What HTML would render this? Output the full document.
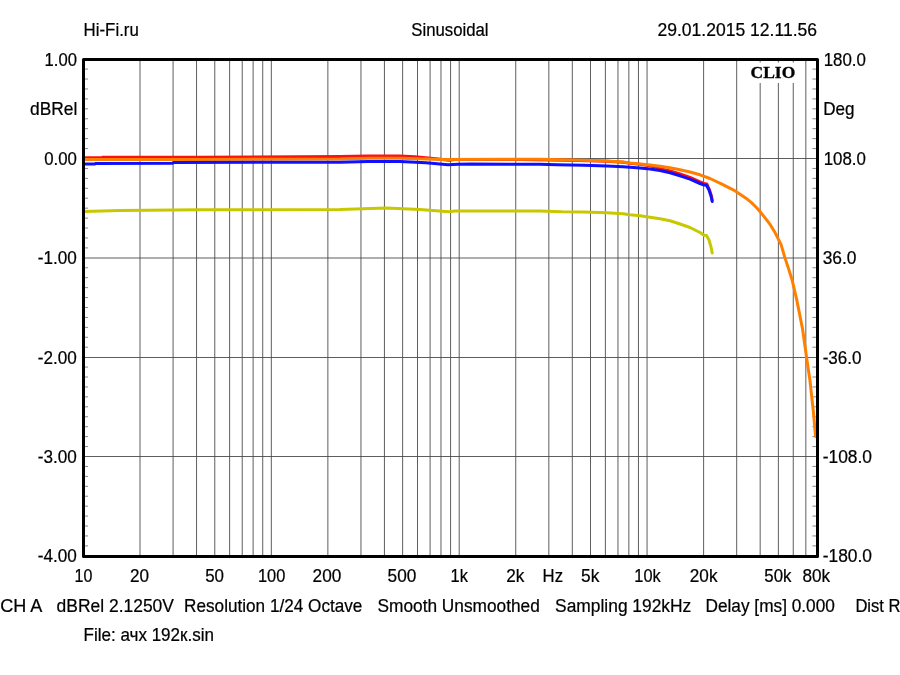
<!DOCTYPE html>
<html><head><meta charset="utf-8"><title>CLIO</title>
<style>
html,body{margin:0;padding:0;background:#fff;}
body{width:900px;height:675px;overflow:hidden;position:relative;}
svg{position:absolute;left:0;top:0;display:block;will-change:transform;}
text{font-family:"Liberation Sans",sans-serif;font-size:18.0px;fill:#000;stroke:#000;stroke-width:0.22px;}
.clio{font-family:"Liberation Serif",serif;font-weight:bold;font-size:17.5px;stroke:#000;stroke-width:0.35px;}
</style></head><body>
<svg width="900" height="675" viewBox="0 0 900 675">
<rect x="0" y="0" width="900" height="675" fill="#ffffff"/>
<path d="M140.00 59.5 V556.4 M173.09 59.5 V556.4 M196.56 59.5 V556.4 M214.77 59.5 V556.4 M229.64 59.5 V556.4 M242.22 59.5 V556.4 M253.11 59.5 V556.4 M262.72 59.5 V556.4 M271.32 59.5 V556.4 M327.87 59.5 V556.4 M360.96 59.5 V556.4 M384.43 59.5 V556.4 M402.64 59.5 V556.4 M417.51 59.5 V556.4 M430.09 59.5 V556.4 M440.98 59.5 V556.4 M450.59 59.5 V556.4 M459.19 59.5 V556.4 M515.74 59.5 V556.4 M548.83 59.5 V556.4 M572.30 59.5 V556.4 M590.51 59.5 V556.4 M605.38 59.5 V556.4 M617.96 59.5 V556.4 M628.85 59.5 V556.4 M638.46 59.5 V556.4 M647.06 59.5 V556.4 M703.61 59.5 V556.4 M736.70 59.5 V556.4 M760.17 59.5 V556.4 M778.38 59.5 V556.4 M793.25 59.5 V556.4 M805.83 59.5 V556.4 M83.5 158.50 H817.5 M83.5 258.00 H817.5 M83.5 357.50 H817.5 M83.5 456.50 H817.5" stroke="#484848" stroke-width="0.88" fill="none"/>
<path d="M85.0 69.10 h3.0 M816.0 69.10 h-3.6 M85.0 79.04 h3.0 M816.0 79.04 h-3.6 M85.0 88.97 h3.0 M816.0 88.97 h-3.6 M85.0 98.90 h3.0 M816.0 98.90 h-3.6 M85.0 108.84 h3.0 M816.0 108.84 h-3.6 M85.0 118.77 h3.0 M816.0 118.77 h-3.6 M85.0 128.70 h3.0 M816.0 128.70 h-3.6 M85.0 138.63 h3.0 M816.0 138.63 h-3.6 M85.0 148.57 h3.0 M816.0 148.57 h-3.6 M85.0 168.43 h3.0 M816.0 168.43 h-3.6 M85.0 178.37 h3.0 M816.0 178.37 h-3.6 M85.0 188.30 h3.0 M816.0 188.30 h-3.6 M85.0 198.23 h3.0 M816.0 198.23 h-3.6 M85.0 208.16 h3.0 M816.0 208.16 h-3.6 M85.0 218.10 h3.0 M816.0 218.10 h-3.6 M85.0 228.03 h3.0 M816.0 228.03 h-3.6 M85.0 237.96 h3.0 M816.0 237.96 h-3.6 M85.0 247.90 h3.0 M816.0 247.90 h-3.6 M85.0 267.76 h3.0 M816.0 267.76 h-3.6 M85.0 277.70 h3.0 M816.0 277.70 h-3.6 M85.0 287.63 h3.0 M816.0 287.63 h-3.6 M85.0 297.56 h3.0 M816.0 297.56 h-3.6 M85.0 307.50 h3.0 M816.0 307.50 h-3.6 M85.0 317.43 h3.0 M816.0 317.43 h-3.6 M85.0 327.36 h3.0 M816.0 327.36 h-3.6 M85.0 337.29 h3.0 M816.0 337.29 h-3.6 M85.0 347.23 h3.0 M816.0 347.23 h-3.6 M85.0 367.09 h3.0 M816.0 367.09 h-3.6 M85.0 377.03 h3.0 M816.0 377.03 h-3.6 M85.0 386.96 h3.0 M816.0 386.96 h-3.6 M85.0 396.89 h3.0 M816.0 396.89 h-3.6 M85.0 406.82 h3.0 M816.0 406.82 h-3.6 M85.0 416.76 h3.0 M816.0 416.76 h-3.6 M85.0 426.69 h3.0 M816.0 426.69 h-3.6 M85.0 436.62 h3.0 M816.0 436.62 h-3.6 M85.0 446.56 h3.0 M816.0 446.56 h-3.6 M85.0 466.42 h3.0 M816.0 466.42 h-3.6 M85.0 476.36 h3.0 M816.0 476.36 h-3.6 M85.0 486.29 h3.0 M816.0 486.29 h-3.6 M85.0 496.22 h3.0 M816.0 496.22 h-3.6 M85.0 506.15 h3.0 M816.0 506.15 h-3.6 M85.0 516.09 h3.0 M816.0 516.09 h-3.6 M85.0 526.02 h3.0 M816.0 526.02 h-3.6 M85.0 535.95 h3.0 M816.0 535.95 h-3.6 M85.0 545.89 h3.0 M816.0 545.89 h-3.6" stroke="#7a7a7a" stroke-width="0.88" fill="none"/>
<rect x="742" y="62.5" width="58" height="20.5" fill="#fff"/>
<text class="clio" x="772.9" y="78.4" text-anchor="middle" textLength="44.7" lengthAdjust="spacingAndGlyphs">CLIO</text>
<path d="M83.5 157.8 L102.0 157.6 L103.0 157.2 L200.0 157.2 L300.0 156.8 L340.0 156.4 L368.0 156.1 L400.0 156.1 L415.0 156.8 L436.0 158.8 L449.0 160.2 L455.0 159.6 L520.0 159.6 L580.0 160.4 L607.0 161.2 L623.0 162.2 L630.0 163.2 L640.0 164.3 L650.0 165.7 L655.0 167.0 L660.0 168.6 L670.0 171.0 L680.0 173.9 L690.0 177.3 L700.0 181.8 L704.0 183.4 L706.8 183.9 L709.5 190.0 L711.4 196.0 L712.2 200.2" stroke="#ff1010" stroke-width="3" fill="none" stroke-linejoin="round" stroke-linecap="round"/>
<path d="M83.5 159.5 L200.0 159.4 L340.0 159.1 L368.0 158.3 L400.0 158.3 L426.0 159.0 L440.0 159.5 L520.0 159.3 L540.0 159.2 L562.0 159.8 L584.0 160.3 L607.0 161.1 L623.0 162.0 L630.0 163.0 L640.0 164.0 L650.0 165.0 L660.0 166.2 L670.0 167.8 L680.0 169.7 L690.0 172.0 L700.0 174.8 L710.0 178.5 L721.9 184.2 L733.7 190.1 L745.6 197.9 L751.5 202.6 L757.4 208.5 L763.3 215.6 L769.3 223.3 L775.2 232.8 L781.1 244.7 L784.8 257.4 L788.5 268.5 L792.2 280.4 L796.7 299.6 L802.6 329.3 L806.4 356.3 L809.9 380.1 L813.3 410.8 L815.6 436.4" stroke="#ff7f00" stroke-width="3" fill="none" stroke-linejoin="round" stroke-linecap="round"/>
<path d="M83.5 163.9 L95.0 163.9 L96.0 163.4 L172.0 163.3 L174.0 162.5 L340.0 162.2 L368.0 161.5 L400.0 161.5 L426.0 162.8 L448.0 164.8 L458.0 164.2 L470.0 163.9 L520.0 164.2 L540.0 164.2 L557.0 164.8 L584.0 165.3 L607.0 165.9 L623.0 166.7 L630.0 167.2 L640.0 168.0 L650.0 169.0 L660.0 170.5 L670.0 172.8 L680.0 175.8 L690.0 179.2 L700.0 183.5 L704.0 185.0 L706.5 185.2 L709.0 190.0 L711.0 196.0 L712.2 201.5" stroke="#1010ff" stroke-width="3" fill="none" stroke-linejoin="round" stroke-linecap="round"/>
<path d="M83.5 211.4 L120.0 210.6 L200.0 209.8 L340.0 209.4 L386.0 208.0 L420.0 209.6 L449.0 211.8 L455.0 211.0 L520.0 210.9 L540.0 210.9 L562.0 211.7 L584.0 212.0 L607.0 212.8 L623.0 213.7 L630.0 214.8 L640.0 215.8 L650.0 217.2 L660.0 218.8 L670.0 220.8 L680.0 224.0 L690.0 227.5 L700.0 232.5 L704.0 235.2 L706.5 235.6 L709.0 240.0 L711.0 247.0 L712.2 253.0" stroke="#c8c800" stroke-width="3" fill="none" stroke-linejoin="round" stroke-linecap="round"/>
<rect x="83.5" y="59.5" width="734.0" height="496.90" fill="none" stroke="#000" stroke-width="3" stroke-linejoin="round"/>
<text transform="translate(83.60 35.60) scale(0.9367 1)">Hi-Fi.ru</text>
<text transform="translate(411.30 35.60) scale(0.9317 1)">Sinusoidal</text>
<text transform="translate(657.40 35.60) scale(0.9750 1)">29.01.2015 12.11.56</text>
<text transform="translate(44.60 65.52) scale(0.9226 1)">1.00</text>
<text transform="translate(44.20 164.85) scale(0.9340 1)">0.00</text>
<text transform="translate(37.80 264.18) scale(0.9527 1)">-1.00</text>
<text transform="translate(37.80 363.51) scale(0.9527 1)">-2.00</text>
<text transform="translate(37.80 462.84) scale(0.9527 1)">-3.00</text>
<text transform="translate(37.80 562.17) scale(0.9527 1)">-4.00</text>
<text transform="translate(30.00 114.60) scale(0.9664 1)">dBRel</text>
<text transform="translate(823.70 65.52) scale(0.9381 1)">180.0</text>
<text transform="translate(823.70 164.85) scale(0.9381 1)">108.0</text>
<text transform="translate(822.70 264.18) scale(0.9654 1)">36.0</text>
<text transform="translate(822.70 363.51) scale(0.9479 1)">-36.0</text>
<text transform="translate(822.70 462.84) scale(0.9661 1)">-108.0</text>
<text transform="translate(822.70 562.17) scale(0.9661 1)">-180.0</text>
<text transform="translate(823.30 115.20) scale(0.9476 1)">Deg</text>
<text transform="translate(74.60 581.60) scale(0.8909 1)">10</text>
<text transform="translate(130.00 581.60) scale(0.9510 1)">20</text>
<text transform="translate(205.20 581.60) scale(0.9409 1)">50</text>
<text transform="translate(258.00 581.60) scale(0.9115 1)">100</text>
<text transform="translate(312.60 581.60) scale(0.9581 1)">200</text>
<text transform="translate(387.60 581.60) scale(0.9581 1)">500</text>
<text transform="translate(450.60 581.60) scale(0.9119 1)">1k</text>
<text transform="translate(506.20 581.60) scale(0.9539 1)">2k</text>
<text transform="translate(542.60 581.60) scale(0.9290 1)">Hz</text>
<text transform="translate(581.00 581.60) scale(0.9644 1)">5k</text>
<text transform="translate(634.30 581.60) scale(0.9082 1)">10k</text>
<text transform="translate(689.80 581.60) scale(0.9529 1)">20k</text>
<text transform="translate(764.30 581.60) scale(0.9357 1)">50k</text>
<text transform="translate(802.50 581.60) scale(0.9529 1)">80k</text>
<text transform="translate(0.20 611.80) scale(1.0040 1)">CH A</text>
<text transform="translate(56.60 611.80) scale(0.9698 1)">dBRel 2.1250V</text>
<text transform="translate(184.10 611.80) scale(0.9529 1)">Resolution 1/24 Octave</text>
<text transform="translate(377.60 611.80) scale(0.9597 1)">Smooth Unsmoothed</text>
<text transform="translate(555.10 611.80) scale(0.9658 1)">Sampling 192kHz</text>
<text transform="translate(705.50 611.80) scale(0.9594 1)">Delay [ms] 0.000</text>
<text transform="translate(855.40 611.80) scale(0.9210 1)">Dist R</text>
<text transform="translate(83.50 641.20) scale(0.9472 1)">File: ачх 192к.sin</text>
</svg></body></html>
